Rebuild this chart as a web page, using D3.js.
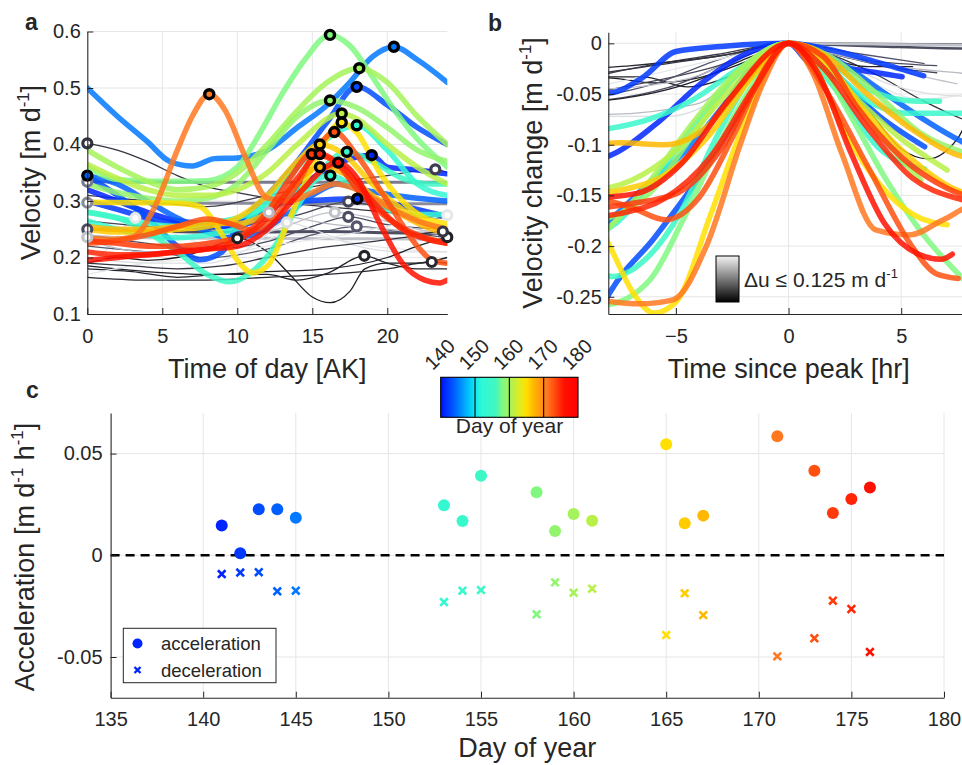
<!DOCTYPE html>
<html>
<head>
<meta charset="utf-8">
<script src="https://cdn.jsdelivr.net/npm/d3@7/dist/d3.min.js"></script>
<style>
  body { margin: 0; background: #fff; }
  svg text { font-family: "Liberation Sans", Arial, Helvetica, sans-serif; fill: #262626; }
</style>
</head>
<body>
<svg id="fig" width="962" height="765"></svg>
<script>
// ---------- values ----------

// day-of-year colour scale (jet-like), 140 -> 180
const stopDays = [140, 144, 148, 150, 152, 156, 158, 161, 163, 165, 167, 171, 173, 176, 180];
const stopColours = ["#0010ff", "#0060ff", "#00c0ff", "#10e8f0", "#30f8d8", "#40f8c0", "#80f880",
                     "#b8f048", "#e0ec20", "#ffe000", "#ffb800", "#ff7820", "#ff5010", "#ff1000", "#ff0000"];
const colourbarTicks = [140, 150, 160, 170, 180];

// panel a: diurnal velocity profiles [hour, m/d] of the days with a clear peak
const colouredDays = [141, 142, 143, 144, 145, 153, 154, 155, 158, 159, 160, 161, 165, 166, 167, 171, 173, 174, 175, 176];
const colouredProfiles = [
  [[0,0.32],[2,0.30],[4,0.28],[6,0.265],[8,0.26],[10,0.265],[11,0.27],[13,0.30],[15,0.34],[17,0.37],[18.96,0.381],[20,0.36],[22,0.355],[24,0.348]],
  [[0,0.30],[2,0.285],[4,0.27],[6,0.26],[8,0.255],[10,0.255],[11.5,0.27],[13,0.296],[15,0.301],[18,0.304],[20,0.297],[22,0.285],[24,0.272]],
  [[0,0.345],[2,0.31],[4,0.27],[6,0.22],[7.5,0.196],[9,0.21],[10,0.255],[12,0.31],[14,0.37],[16,0.44],[17.96,0.502],[20,0.47],[22,0.43],[24,0.40]],
  [[0,0.345],[2,0.33],[4,0.30],[6,0.27],[8,0.245],[9.5,0.235],[11,0.24],[13,0.27],[15,0.31],[16.7,0.33],[18,0.322],[20,0.312],[22,0.305],[24,0.30]],
  [[0,0.50],[2,0.45],[4,0.405],[5.5,0.37],[7,0.362],[8.5,0.375],[10,0.376],[12,0.39],[14,0.43],[16,0.47],[17.5,0.51],[19,0.555],[20.44,0.573],[22,0.55],[24,0.51]],
  [[0,0.265],[2,0.25],[4,0.24],[6,0.235],[8,0.24],[10,0.252],[12,0.30],[14,0.36],[16,0.41],[17.96,0.434],[20,0.39],[22,0.33],[24,0.31]],
  [[0,0.28],[2,0.27],[4,0.26],[6,0.255],[8,0.26],[10,0.27],[12,0.29],[14,0.32],[16.2,0.345],[18,0.32],[20,0.285],[21.5,0.276],[24,0.276]],
  [[0,0.28],[2,0.27],[4,0.245],[6,0.21],[8,0.17],[9.5,0.157],[11,0.175],[12.5,0.22],[14,0.29],[15.5,0.35],[17.3,0.387],[19,0.37],[21,0.34],[23,0.33],[24,0.33]],
  [[0,0.36],[2,0.338],[4,0.335],[6,0.335],[8,0.336],[10,0.36],[11.5,0.42],[13,0.49],[14.5,0.55],[16.18,0.594],[17.5,0.575],[19,0.52],[20.5,0.46],[22,0.41],[24,0.36]],
  [[0,0.33],[2,0.315],[4,0.305],[6,0.30],[8,0.305],[10,0.33],[12,0.39],[14,0.45],[16.18,0.478],[18,0.465],[20,0.43],[22,0.39],[24,0.37]],
  [[0,0.39],[2,0.36],[4,0.335],[6,0.32],[8,0.325],[10,0.35],[12,0.40],[14,0.46],[16,0.51],[18.13,0.535],[20,0.51],[22,0.45],[24,0.40]],
  [[0,0.365],[2,0.34],[4,0.32],[6,0.31],[8,0.31],[10,0.32],[12,0.35],[14,0.40],[16.96,0.455],[18,0.445],[20,0.40],[22,0.36],[24,0.33]],
  [[0,0.298],[3,0.297],[6,0.296],[7.5,0.29],[9,0.24],[10,0.195],[11,0.173],[12,0.185],[13.5,0.27],[15,0.36],[16.96,0.439],[18,0.42],[19.5,0.35],[21,0.30],[22.5,0.27],[24,0.26]],
  [[0,0.25],[2,0.245],[4,0.245],[6,0.25],[8,0.255],[10,0.27],[12,0.31],[14,0.37],[15.5,0.40],[17,0.385],[19,0.33],[21,0.285],[23,0.255],[24,0.25]],
  [[0,0.255],[2,0.25],[4,0.25],[6,0.255],[8,0.262],[10,0.26],[12,0.28],[13.5,0.32],[15.51,0.36],[17,0.35],[19,0.31],[21,0.275],[23,0.25],[24,0.245]],
  [[0,0.235],[1.5,0.232],[3,0.236],[4.5,0.29],[6,0.39],[7,0.45],[8.13,0.489],[9.2,0.46],[10.5,0.38],[12,0.305],[13.5,0.30],[15,0.315],[16.5,0.33],[18,0.32],[20,0.29],[22,0.265],[24,0.25]],
  [[0,0.225],[2,0.23],[4,0.24],[6,0.255],[8,0.268],[9.5,0.26],[11,0.248],[12.5,0.27],[14,0.33],[15.5,0.40],[16.47,0.422],[18,0.38],[20,0.30],[22,0.22],[23,0.195],[24,0.19]],
  [[0,0.23],[2,0.225],[4,0.22],[6,0.22],[8,0.225],[10,0.235],[12,0.28],[13.5,0.34],[14.96,0.383],[16.5,0.37],[18,0.32],[20,0.27],[22,0.24],[24,0.225]],
  [[0,0.21],[2,0.205],[4,0.205],[6,0.21],[8,0.215],[10,0.23],[12,0.27],[14,0.34],[15.5,0.383],[17,0.36],[19,0.30],[21,0.25],[23,0.23],[24,0.225]],
  [[0,0.195],[2,0.2],[4,0.205],[6,0.21],[8,0.215],[10,0.22],[12,0.25],[14,0.31],[16.73,0.368],[18,0.34],[19.5,0.26],[21,0.19],[22.5,0.16],[23.5,0.155],[24,0.16]]
];

// panel a: quiet days (grey lines) and their delta-u shade value
const quietProfiles = [
  [[0,0.402],[2,0.39],[4,0.37],[6,0.345],[8,0.325],[10,0.315],[12,0.305],[14,0.295],[16,0.29],[18,0.285],[20,0.28],[22,0.272],[24,0.27]],
  [[0,0.334],[6,0.333],[12,0.333],[18,0.333],[24,0.333]],
  [[0,0.297],[6,0.296],[12,0.296],[18,0.295],[24,0.295]],
  [[0,0.25],[4,0.247],[8,0.245],[12,0.245],[16,0.246],[20,0.244],[24,0.242]],
  [[0,0.236],[4,0.235],[8,0.234],[12,0.234],[16,0.233],[20,0.233],[24,0.232]],
  [[0,0.18],[1.5,0.22],[3.2,0.27],[5,0.25],[7,0.23],[9,0.215],[11,0.22],[13,0.24],[15,0.24],[17,0.23],[19,0.22],[21,0.215],[24,0.21]],
  [[0,0.19],[2,0.2],[4,0.195],[6,0.2],[8,0.215],[10,0.234],[12,0.21],[13.5,0.17],[15,0.13],[16.2,0.12],[17.5,0.14],[18.5,0.18],[20,0.19],[22,0.19],[24,0.20]],
  [[0,0.18],[3,0.175],[6,0.165],[9,0.17],[12,0.17],[14,0.16],[16,0.172],[18.47,0.203],[20,0.19],[22,0.18],[24,0.18]],
  [[0,0.265],[4,0.255],[8,0.25],[11,0.26],[14,0.275],[17.4,0.299],[20,0.285],[22,0.275],[24,0.27]],
  [[0,0.24],[4,0.225],[8,0.215],[12,0.228],[15,0.255],[17.4,0.272],[20,0.258],[24,0.25]],
  [[0,0.22],[4,0.21],[8,0.20],[12,0.215],[15,0.24],[17.96,0.255],[21,0.245],[24,0.235]],
  [[0,0.23],[4,0.21],[8,0.22],[10,0.25],[12.1,0.28],[14,0.27],[16,0.26],[20,0.25],[24,0.24]],
  [[0,0.20],[4,0.19],[8,0.19],[11,0.22],[13.3,0.262],[15,0.25],[18,0.22],[21,0.21],[24,0.21]],
  [[0,0.24],[4,0.235],[8,0.235],[12,0.245],[16.5,0.28],[19,0.27],[22,0.25],[24,0.24]],
  [[0,0.185],[4,0.175],[8,0.17],[12,0.175],[16,0.18],[20,0.2],[22,0.22],[24,0.236]],
  [[0,0.17],[4,0.19],[8,0.2],[12,0.22],[16,0.235],[20,0.255],[24,0.275]],
  [[0,0.31],[4,0.30],[8,0.29],[12,0.31],[16,0.33],[20,0.345],[23.2,0.356],[24,0.35]],
  [[0,0.165],[4,0.16],[8,0.16],[12,0.165],[16,0.17],[20,0.18],[22.96,0.192],[24,0.19]],
  [[0,0.19],[3,0.185],[6,0.18],[9,0.185],[12,0.20],[15,0.215],[18,0.225],[21,0.235],[23.7,0.246],[24,0.245]]
];
const quietDeltaU = [0.02, 0.06, 0.07, 0.035, 0.1, 0.12, 0.005, 0.01, 0.03, 0.035, 0.04, 0.095, 0.115, 0.1, 0.008, 0.12, 0.025, 0.012, 0.02];

// panel c: peak acceleration / deceleration per day
const accelDays = [141, 142, 143, 144, 145, 153, 154, 155, 158, 159, 160, 161, 165, 166, 167, 171, 173, 174, 175, 176];
const accelValues = [0.0146, 0.001, 0.0226, 0.0226, 0.0185, 0.0246, 0.0169, 0.0391, 0.031, 0.012,
                     0.0203, 0.017, 0.0546, 0.0157, 0.0195, 0.0585, 0.0416, 0.0208, 0.0277, 0.0333];
const decelValues = [-0.0092, -0.0085, -0.0083, -0.0177, -0.0174, -0.023, -0.0174, -0.0171, -0.029, -0.0133,
                     -0.0184, -0.0164, -0.0392, -0.0187, -0.0294, -0.0497, -0.0408, -0.0223, -0.0264, -0.0475];

// tick values
const ticksAx = [0, 5, 10, 15, 20];
const ticksAy = [0.1, 0.2, 0.3, 0.4, 0.5, 0.6];
const ticksBx = [-5, 0, 5];
const ticksBy = [-0.25, -0.2, -0.15, -0.1, -0.05, 0];
const ticksCx = [135, 140, 145, 150, 155, 160, 165, 170, 175, 180];
const ticksCy = [-0.05, 0, 0.05];

// ---------- setup ----------
const svg = d3.select("#fig");
const ink = "#262626";
const gridCol = "#e6e6e6";

const dayColour = d3.scaleLinear().domain(stopDays).range(stopColours).interpolate(d3.interpolateRgb);
const greyShade = d3.scaleLinear().domain([0, 0.04, 0.125]).range(["#141418", "#55556c", "#eef1f2"]);

const xA = d3.scaleLinear([0, 24], [87.3, 447.3]);
const yA = d3.scaleLinear([0.1, 0.6], [314, 31.5]);
const xB = d3.scaleLinear([-8, 8], [608.3, 968.8]);
const yB = d3.scaleLinear([-0.267, 0.011], [314, 32.2]);
const xC = d3.scaleLinear([135, 180], [110.6, 944]);
const yC = d3.scaleLinear([-0.07, 0.07], [697.7, 412.9]);

const defs = svg.append("defs");
defs.append("clipPath").attr("id", "clipA").append("rect")
    .attr("x", 87.3).attr("y", 31.5).attr("width", 360).attr("height", 282.5);
defs.append("clipPath").attr("id", "clipB").append("rect")
    .attr("x", 608.3).attr("y", 32.2).attr("width", 360.5).attr("height", 281.8);

// text with superscript parts: [["text", isSup], ...]
function richText(parent, parts, size) {
    const t = parent.append("text").style("font-size", size + "px");
    let up = false;
    parts.forEach(([str, sup]) => {
        const s = t.append("tspan").text(str);
        if (sup) {
            s.style("font-size", (size * 0.62) + "px").attr("dy", -size * 0.42);
            up = true;
        } else if (up) {
            s.attr("dy", size * 0.42);
            up = false;
        }
    });
    return t;
}

function grid(g, x, y, xv, yv) {
    g.selectAll(".gx").data(xv).join("line")
        .attr("x1", d => x(d)).attr("x2", d => x(d))
        .attr("y1", y.range()[0]).attr("y2", y.range()[1])
        .attr("stroke", gridCol).attr("stroke-width", 1);
    g.selectAll(".gy").data(yv).join("line").attr("class", "gy")
        .attr("y1", d => y(d)).attr("y2", d => y(d))
        .attr("x1", x.range()[0]).attr("x2", x.range()[1])
        .attr("stroke", gridCol).attr("stroke-width", 1);
}

function axes(x, y, xt, yt, fmtX, fmtY, padX, padY) {
    const ax = svg.append("g")
        .attr("transform", `translate(0,${y.range()[0]})`)
        .call(d3.axisBottom(x).tickValues(xt).tickFormat(fmtX).tickSizeInner(-6).tickSizeOuter(0).tickPadding(padX));
    const ay = svg.append("g")
        .attr("transform", `translate(${x.range()[0]},0)`)
        .call(d3.axisLeft(y).tickValues(yt).tickFormat(fmtY).tickSizeInner(-6).tickSizeOuter(0).tickPadding(padY));
    [ax, ay].forEach(g => {
        g.select(".domain").attr("stroke", ink).attr("stroke-width", 1.1);
        g.selectAll(".tick line").attr("stroke", ink).attr("stroke-width", 1);
        g.selectAll(".tick text").style("font-size", "20px").attr("fill", ink)
            .style("font-family", '"Liberation Sans", Arial, sans-serif');
    });
}

const fmtTrim = d => d === 0 ? "0" : String(+d.toFixed(2));

// ---------- panel a ----------
const gA = svg.append("g");
grid(gA, xA, yA, [5, 10, 15, 20], [0.2, 0.3, 0.4, 0.5, 0.6]);

const lineA = d3.line().x(d => xA(d[0])).y(d => yA(d[1])).curve(d3.curveMonotoneX);
const lineB = d3.line().x(d => xB(d[0])).y(d => yB(d[1])).curve(d3.curveMonotoneX);

const quiet = quietProfiles.map((p, i) => {
    const peak = d3.greatest(p, d => d[1]);
    const spread = d3.max(p, d => d[1]) - d3.min(p, d => d[1]);
    return {p, peak, shade: greyShade(quietDeltaU[i]), flat: spread < 0.01};
});
const coloured = colouredProfiles.map((p, i) => ({
    p, peak: d3.greatest(p, d => d[1]), col: dayColour(colouredDays[i])
}));

const linesA = gA.append("g").attr("clip-path", "url(#clipA)");
linesA.selectAll("path.q").data(quiet).join("path").attr("class", "q")
    .attr("d", d => lineA(d.p)).attr("fill", "none")
    .attr("stroke", d => d.shade).attr("stroke-width", d => d.flat ? 3 : 1.3);
linesA.selectAll("path.c").data(coloured).join("path").attr("class", "c")
    .attr("d", d => lineA(d.p)).attr("fill", "none")
    .attr("stroke", d => d.col).attr("stroke-width", 5.5).attr("stroke-opacity", 0.85)
    .attr("stroke-linecap", "round").attr("stroke-linejoin", "round");

gA.selectAll("circle.q").data(quiet).join("circle").attr("class", "q")
    .attr("cx", d => xA(d.peak[0])).attr("cy", d => yA(d.peak[1])).attr("r", 4.5)
    .attr("fill", "#fff").attr("stroke", d => d.shade).attr("stroke-width", 3.2);
gA.selectAll("circle.c").data(coloured).join("circle").attr("class", "c")
    .attr("cx", d => xA(d.peak[0])).attr("cy", d => yA(d.peak[1])).attr("r", 4.5)
    .attr("fill", d => d.col).attr("stroke", "#000").attr("stroke-width", 3.4);

axes(xA, yA, ticksAx, ticksAy, d3.format("d"), d3.format(".1f"), 15, 6.5);

// ---------- panel b ----------
const gB = svg.append("g");
grid(gB, xB, yB, [-5, 0, 5], [-0.25, -0.2, -0.15, -0.1, -0.05, 0]);
const rel = d => d.p.map(([t, v]) => [t - d.peak[0], v - d.peak[1]]);
const linesB = gB.append("g").attr("clip-path", "url(#clipB)");
linesB.selectAll("path.q").data(quiet).join("path").attr("class", "q")
    .attr("d", d => lineB(rel(d))).attr("fill", "none")
    .attr("stroke", d => d.shade).attr("stroke-width", d => d.flat ? 2.5 : 1.3);
linesB.selectAll("path.c").data(coloured).join("path").attr("class", "c")
    .attr("d", d => lineB(rel(d))).attr("fill", "none")
    .attr("stroke", d => d.col).attr("stroke-width", 5.5).attr("stroke-opacity", 0.85)
    .attr("stroke-linecap", "round").attr("stroke-linejoin", "round");

axes(xB, yB, ticksBx, ticksBy, d3.format("d"), fmtTrim, 15, 6.5);

// delta-u grey legend
const gGrey = defs.append("linearGradient").attr("id", "greyGrad")
    .attr("x1", 0).attr("y1", 0).attr("x2", 0).attr("y2", 1);
gGrey.append("stop").attr("offset", "0%").attr("stop-color", "#f4f4f4");
gGrey.append("stop").attr("offset", "100%").attr("stop-color", "#000");
svg.append("rect").attr("x", 716).attr("y", 256).attr("width", 23).attr("height", 46)
    .attr("fill", "url(#greyGrad)").attr("stroke", "#000").attr("stroke-width", 1);
richText(svg, [["\u0394u \u2264 0.125 m d", 0], ["-1", 1]], 21)
    .attr("x", 744).attr("y", 287);

// ---------- panel c ----------
const gC = svg.append("g");
grid(gC, xC, yC, ticksCx.slice(1), ticksCy);
gC.append("line")
    .attr("x1", xC(135)).attr("x2", xC(180)).attr("y1", yC(0)).attr("y2", yC(0))
    .attr("stroke", "#000").attr("stroke-width", 2.6).attr("stroke-dasharray", "9,6");

axes(xC, yC, ticksCx, ticksCy, d3.format("d"), fmtTrim, 14, 8);

const cross = "M-3.8,-3.8L3.8,3.8M-3.8,3.8L3.8,-3.8";
gC.selectAll("circle.acc").data(accelDays).join("circle").attr("class", "acc")
    .attr("cx", d => xC(d)).attr("cy", (d, i) => yC(accelValues[i])).attr("r", 6)
    .attr("fill", d => dayColour(d));
gC.selectAll("path.dec").data(accelDays).join("path").attr("class", "dec")
    .attr("transform", (d, i) => `translate(${xC(d)},${yC(decelValues[i])})`)
    .attr("d", cross).attr("fill", "none").attr("stroke", d => dayColour(d)).attr("stroke-width", 2.6);

// legend
const leg = svg.append("g");
leg.append("rect").attr("x", 123.3).attr("y", 628.3).attr("width", 152.7).attr("height", 54.4)
    .attr("fill", "#fff").attr("stroke", ink).attr("stroke-width", 1);
leg.append("circle").attr("cx", 137.5).attr("cy", 643.5).attr("r", 5).attr("fill", dayColour(141));
leg.append("path").attr("transform", "translate(137.5,670)").attr("d", "M-3,-3L3,3M-3,3L3,-3")
    .attr("stroke", dayColour(141)).attr("stroke-width", 2.4);
leg.append("text").attr("x", 161).attr("y", 650).style("font-size", "18.5px").text("acceleration");
leg.append("text").attr("x", 161).attr("y", 677).style("font-size", "18.5px").text("deceleration");

// ---------- colour bar ----------
const xBar = d3.scaleLinear([140, 180], [440.7, 578]);
const grad = defs.append("linearGradient").attr("id", "dayGrad")
    .attr("x1", 0).attr("y1", 0).attr("x2", 1).attr("y2", 0);
grad.selectAll("stop").data(d3.range(140, 180.5, 1)).join("stop")
    .attr("offset", d => ((d - 140) / 40 * 100) + "%").attr("stop-color", d => dayColour(d));
svg.append("rect").attr("x", 440.7).attr("y", 377.3).attr("width", 137.3).attr("height", 40)
    .attr("fill", "url(#dayGrad)").attr("stroke", "#000").attr("stroke-width", 1.1);
svg.selectAll("line.cbar").data(colourbarTicks.slice(1, -1)).join("line").attr("class", "cbar")
    .attr("x1", d => xBar(d)).attr("x2", d => xBar(d)).attr("y1", 377.3).attr("y2", 417.3)
    .attr("stroke", "#000").attr("stroke-width", 1.1);
svg.selectAll("text.cbar").data(colourbarTicks).join("text").attr("class", "cbar")
    .attr("transform", d => `translate(${xBar(d) - 8},371) rotate(-45)`)
    .style("font-size", "20px").text(d => d);
svg.append("text").attr("x", 509.5).attr("y", 433).attr("text-anchor", "middle")
    .style("font-size", "21px").text("Day of year");

// ---------- axis labels & panel letters ----------
svg.append("text").attr("x", 267.3).attr("y", 378).attr("text-anchor", "middle")
    .style("font-size", "27px").text("Time of day [AK]");
svg.append("text").attr("x", 788.7).attr("y", 378).attr("text-anchor", "middle")
    .style("font-size", "27px").text("Time since peak [hr]");
svg.append("text").attr("x", 527.3).attr("y", 757).attr("text-anchor", "middle")
    .style("font-size", "27px").text("Day of year");

richText(svg, [["Velocity [m d", 0], ["-1", 1], ["]", 0]], 27)
    .attr("text-anchor", "middle").attr("transform", "translate(40,172.6) rotate(-90)");
richText(svg, [["Velocity change [m d", 0], ["-1", 1], ["]", 0]], 27)
    .attr("text-anchor", "middle").attr("transform", "translate(542,173) rotate(-90)");
richText(svg, [["Acceleration [m d", 0], ["-1", 1], [" h", 0], ["-1", 1], ["]", 0]], 27)
    .attr("text-anchor", "middle").attr("transform", "translate(34,557) rotate(-90)");

[["a", 25, 30], ["b", 488, 30.5], ["c", 26, 398]].forEach(([s, x, y]) => {
    svg.append("text").attr("x", x).attr("y", y).style("font-size", "23px")
        .style("font-weight", "bold").attr("fill", "#000").text(s);
});
</script>
</body>
</html>
